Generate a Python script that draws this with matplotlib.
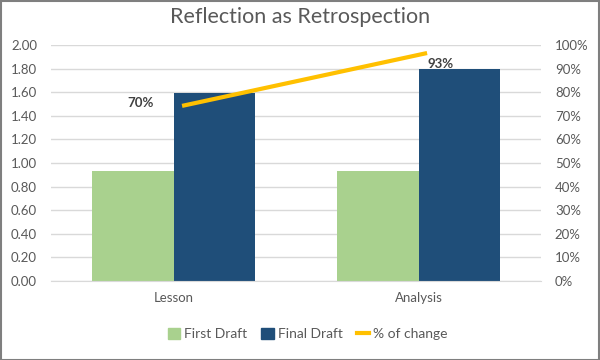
import numpy as np
import matplotlib.pyplot as plt
from matplotlib.lines import Line2D
from matplotlib.patches import Patch, Rectangle

plt.rcParams["font.family"] = ["Lato", "DejaVu Sans"]

# data
categories = ["Lesson", "Analysis"]
first_draft = [0.93, 0.93]
final_draft = [1.59, 1.80]
pct_change = [0.742, 0.966]          # line position as drawn
pct_labels = ["70%", "93%"]

green = "#A9D18E"
navy = "#1F4E79"
gold = "#FFC000"
txt = "#595959"

fig = plt.figure(figsize=(6, 3.6), dpi=100)
ax = fig.add_axes([51/600, 1 - 281/360, 490/600, 236/360])
ax2 = ax.twinx()

x = np.arange(len(categories))
w = 1/3
ax.bar(x - w/2, first_draft, w, color=green, zorder=2)
ax.bar(x + w/2, final_draft, w, color=navy, zorder=2)

ax.set_xlim(-0.5, 1.5)
ax.set_ylim(0, 2.0)
ax.set_yticks(np.arange(0, 2.01, 0.2))
ax.set_yticklabels([f"{v:.2f}" for v in np.arange(0, 2.01, 0.2)])
ax.set_xticks(x)
ax.set_xticklabels(categories)
ax.grid(axis="y", color="#D9D9D9", lw=1, zorder=0)
ax.set_axisbelow(True)

# line sits slightly right of the category centres, like the original
xl = x + 0.035
ax2.plot(xl, pct_change, color=gold, lw=3, solid_capstyle="butt", zorder=3)
ax2.set_ylim(0, 1.0)
ax2.set_yticks(np.arange(0, 1.01, 0.1))
ax2.set_yticklabels([f"{int(round(v*100))}%" for v in np.arange(0, 1.01, 0.1)])

ax2.annotate(pct_labels[0], (xl[0], pct_change[0]), xytext=(-30, 2),
             textcoords="offset points", ha="center", va="center",
             fontsize=9.5, fontweight="bold", color="#404040")
ax2.annotate(pct_labels[1], (xl[1], pct_change[1]), xytext=(10, -8),
             textcoords="offset points", ha="center", va="center",
             fontsize=9.5, fontweight="bold", color="#404040")

for a in (ax, ax2):
    for s in a.spines.values():
        s.set_visible(False)
    a.tick_params(length=0, colors=txt, labelsize=9.5)
ax.spines["bottom"].set_visible(True)
ax.spines["bottom"].set_color("#D9D9D9")
ax.tick_params(axis="y", pad=10)
ax.tick_params(axis="x", pad=8)
ax2.tick_params(axis="y", pad=10)

fig.text(0.5, 1 - 17/360, "Reflection as Retrospection", ha="center", va="center",
         fontsize=15.5, color=txt)

handles = [Patch(color=green, label="First Draft"),
           Patch(color=navy, label="Final Draft"),
           Line2D([0], [0], color=gold, lw=3, label="% of change")]
fig.legend(handles=handles, loc="center", bbox_to_anchor=(0.513, 1 - 334/360),
           ncol=3, frameon=False, fontsize=10, labelcolor=txt,
           handlelength=0.9, handleheight=0.9, handletextpad=0.3, columnspacing=1.0)

fig.add_artist(Rectangle((0.001, 0.001), 0.997, 0.997, transform=fig.transFigure,
                         fill=False, edgecolor="#7F7F7F", lw=1.5))

fig.savefig("out.png", dpi=100)
